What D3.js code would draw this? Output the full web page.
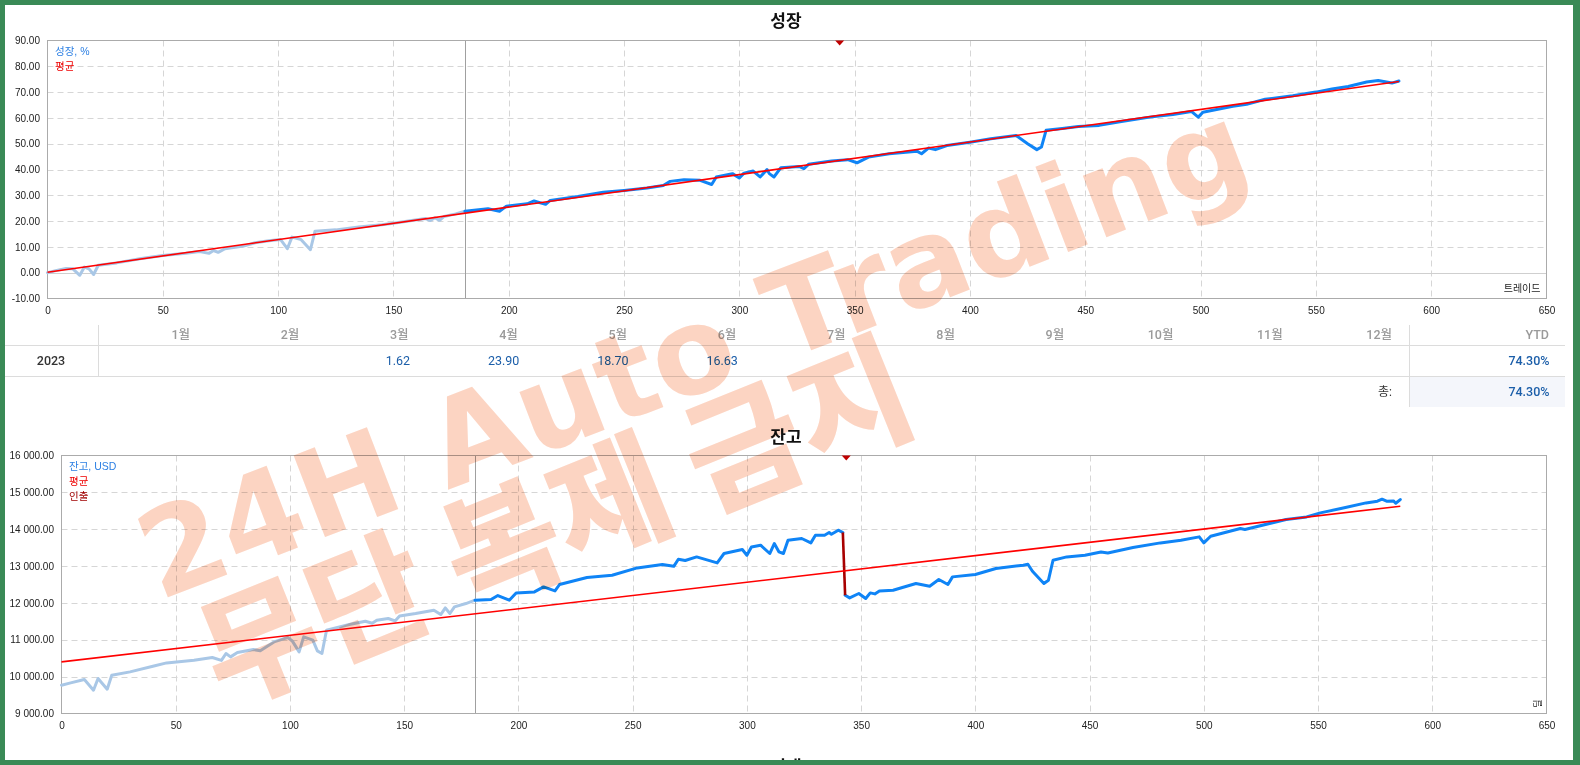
<!DOCTYPE html>
<html><head><meta charset="utf-8">
<script src="https://cdn.jsdelivr.net/npm/d3@7"></script>
<style>
html,body{margin:0;padding:0;background:#fff;overflow:hidden;}
svg{display:block;}
text{font-family:"Liberation Sans","Noto Sans CJK KR",sans-serif;}
</style></head><body>
<svg id="c" width="1580" height="765"></svg>
<script>
// ---------- DATA ----------
const xTickValues = [0,50,100,150,200,250,300,350,400,450,500,550,600,650];
const growthTicks = [-10,0,10,20,30,40,50,60,70,80,90];
const balanceTicks = [9000,10000,11000,12000,13000,14000,15000,16000];

const growthTrades = [0,4,8,11,14,16,18,20,22,30,40,50,60,66,70,72,74,77,85,90,96,101,104,106,110,114,116,125,135,145,150,158,164,166,168,170,172,177,181,191,196,199,208,211,216,218,230,241,250,260,267,270,276,283,288,290,297,300,302,306,309,312,313,315,318,326,328,330,340,347,351,356,365,377,379,382,385,390,400,409,420,425,429,431,433,440,447,456,465,478,488,496,499,501,514,520,528,540,550,557,564,572,577,580,583,586];
const growthValues = [0.0,0.9,1.6,1.5,-1.0,2.2,1.5,-0.7,2.9,3.8,5.4,6.7,7.5,8.2,7.5,8.6,7.9,9.3,10.3,11.6,12.4,12.9,9.3,13.8,12.8,8.9,16.1,16.6,17.7,18.6,19.2,20.2,21.0,20.2,21.3,20.3,21.8,22.8,23.8,24.8,23.8,25.8,26.7,27.8,26.5,28.0,29.5,31.2,31.9,32.8,33.8,35.4,36.0,35.8,34.2,37.1,38.4,36.7,38.6,39.4,37.1,40.0,38.4,37.1,40.7,41.2,40.3,42.0,43.3,43.8,42.6,44.8,46.1,47.1,46.1,48.3,47.7,49.3,50.6,51.9,53.2,50.0,47.7,48.7,55.2,55.9,56.7,57.1,58.5,60.3,61.3,62.5,60.3,62.2,64.5,65.3,67.2,68.6,70.0,71.2,72.2,73.9,74.5,74.0,73.5,74.3];
const growthAvgTrades = [0,586];
const growthAvgValues = [0.2,74.1];

const balanceTrades = [0,4,10,14,16,20,22,30,40,46,58,66,70,72,74,77,84,87,93,99,101,104,106,110,112,114,116,126,133,136,138,143,146,148,155,163,166,168,170,172,177,181,188,191,196,199,207,211,216,218,230,241,252,263,268,270,273,278,287,290,298,300,302,306,310,312,314,316,318,324,328,330,334,336,337,340,342,343,345,349,352,354,356,358,364,374,380,384,388,390,400,409,421,423,425,430,432,434,440,448,455,458,469,481,490,498,500,503,516,518,536,545,551,560,571,576,578,580,583,584,586];
const balanceValues = [9768,9831,9922,9632,9950,9659,10039,10130,10280,10373,10446,10520,10440,10628,10536,10655,10736,10700,10942,11062,10970,10672,11079,10989,10699,10628,11260,11415,11504,11450,11530,11577,11511,11648,11713,11803,11685,11865,11713,11893,11983,12075,12092,12201,12074,12272,12299,12435,12326,12500,12690,12752,12950,13042,12993,13186,13150,13249,13086,13341,13449,13294,13520,13566,13341,13612,13386,13341,13702,13748,13629,13837,13837,13910,13865,13973,13910,12209,12137,12256,12120,12272,12245,12326,12345,12527,12454,12635,12500,12707,12771,12934,13023,13050,12860,12527,12617,13159,13249,13294,13384,13357,13503,13629,13702,13792,13629,13810,14019,13994,14263,14334,14443,14560,14714,14760,14814,14760,14768,14705,14805];
const balanceAvgTrades = [0,586];
const balanceAvgValues = [10400,14624];
const withdrawalTrades = [342,343];
const withdrawalValues = [13910,12209];
const withdrawalMarker = 343.5;
const historyEnd = 181;

const months = ["1월","2월","3월","4월","5월","6월","7월","8월","9월","10월","11월","12월"];
const monthValues = [null,null,"1.62","23.90","18.70","16.63",null,null,null,null,null,null];
const yearLabel = "2023";
const ytdValue = "74.30%";
const totalValue = "74.30%";
const watermarkLines = ["24H Auto Trading","무단 복제 금지"];

// ---------- DRAW ----------
const svg = d3.select("#c");
svg.append("rect").attr("width",1580).attr("height",765).attr("fill","#fff");

const loc = d3.formatLocale({decimal:".",thousands:" ",grouping:[3],currency:["",""],minus:"-"});
const fmtBal = loc.format(",.2f");
const fmtG = loc.format(".2f");

function drawChart(cfg){
  const g = svg.append("g");
  const x = d3.scaleLinear().domain([0,650]).range([cfg.left,cfg.right]);
  const y = d3.scaleLinear().domain([cfg.ticks[0],cfg.ticks[cfg.ticks.length-1]]).range([cfg.bottom,cfg.top]);
  // grid
  g.append("g").selectAll("line").data(xTickValues.slice(1,-1)).join("line")
    .attr("x1",d=>Math.round(x(d))+0.5).attr("x2",d=>Math.round(x(d))+0.5)
    .attr("y1",cfg.top).attr("y2",cfg.bottom)
    .attr("stroke","#d6d6d6").attr("stroke-dasharray","6,4");
  g.append("g").selectAll("line").data(cfg.ticks.slice(1,-1)).join("line")
    .attr("x1",cfg.left).attr("x2",cfg.right)
    .attr("y1",d=>Math.round(y(d))+0.5).attr("y2",d=>Math.round(y(d))+0.5)
    .attr("stroke",d=>d===0&&cfg.zeroLine?"#cfcfcf":"#d6d6d6")
    .attr("stroke-dasharray",d=>d===0&&cfg.zeroLine?null:"6,4");
  // history separator
  g.append("line").attr("x1",Math.round(x(historyEnd))+0.5).attr("x2",Math.round(x(historyEnd))+0.5)
    .attr("y1",cfg.top).attr("y2",cfg.bottom).attr("stroke","#a0a0a0");
  // border
  g.append("rect").attr("x",cfg.left).attr("y",cfg.top).attr("width",cfg.right-cfg.left).attr("height",cfg.bottom-cfg.top)
    .attr("fill","none").attr("stroke","#ababab");
  // axes
  const ax = g.append("g").attr("transform",`translate(0,${cfg.bottom})`)
    .call(d3.axisBottom(x).tickValues(xTickValues).tickSize(0).tickPadding(8.6));
  ax.select(".domain").remove();
  ax.selectAll("text").attr("fill","#222").style("font-size","10px").style("font-family","Liberation Sans");
  const ay = g.append("g").attr("transform",`translate(${cfg.left},0)`)
    .call(d3.axisLeft(y).tickValues(cfg.ticks).tickFormat(cfg.fmt).tickSize(0).tickPadding(7.5));
  ay.select(".domain").remove();
  ay.selectAll("text").attr("fill","#222").style("font-size","10px").style("font-family","Liberation Sans");

  const pts = cfg.trades.map((t,i)=>[t,cfg.values[i]]);
  const line = d3.line().x(d=>x(d[0])).y(d=>y(d[1]));
  const segs = cfg.breakAt!=null
    ? [pts.filter(p=>p[0]<=cfg.breakAt[0]), pts.filter(p=>p[0]>=cfg.breakAt[1])]
    : [pts];
  segs.forEach(s=>{
    const hist = s.filter(p=>p[0]<=historyEnd);
    const live = s.filter(p=>p[0]>=historyEnd);
    if(hist.length>1) g.append("path").attr("d",line(hist)).attr("fill","none").attr("stroke","#a9c7e6")
      .attr("stroke-width",3).attr("stroke-linejoin","round").attr("stroke-linecap","round");
    if(live.length>1) g.append("path").attr("d",line(live)).attr("fill","none").attr("stroke","#0f84f6")
      .attr("stroke-width",3).attr("stroke-linejoin","round").attr("stroke-linecap","round");
  });
  // withdrawal
  if(cfg.wTrades){
    g.append("path").attr("d",line(cfg.wTrades.map((t,i)=>[t,cfg.wValues[i]])))
      .attr("fill","none").attr("stroke","#a80000").attr("stroke-width",2.6);
  }
  // average
  g.append("path").attr("d",line(cfg.avgTrades.map((t,i)=>[t,cfg.avgValues[i]])))
    .attr("fill","none").attr("stroke","#f00").attr("stroke-width",1.6);
  // marker
  const mx = x(withdrawalMarker);
  g.append("path").attr("d",`M${mx-4.5},${cfg.top} L${mx+4.5},${cfg.top} L${mx},${cfg.top+5} Z`).attr("fill","#c00000");
  // legend
  cfg.legend.forEach((l,i)=>{
    g.append("text").attr("x",cfg.left+7.5).attr("y",cfg.top+14.5+i*15).attr("fill",l[1])
      .style("font-size","10.5px").text(l[0]);
  });
  // axis name
  if(cfg.xName){
    g.append("text").attr("x",cfg.right-6).attr("y",cfg.bottom-6.5).attr("text-anchor","end").attr("fill","#222")
      .style("font-size","10px").style("font-family","Noto Sans CJK KR").text(cfg.xName);
  }
  if(cfg.xNameRot){
    g.append("text").attr("transform",`translate(${cfg.right-6},${cfg.bottom-10}) rotate(-90)`).attr("text-anchor","middle")
      .attr("fill","#222").style("font-size","9px").style("font-family","Noto Sans CJK KR").text(cfg.xNameRot);
  }
}

// titles
function title(txt,yb){
  svg.append("text").attr("x",786).attr("y",yb).attr("text-anchor","middle").attr("fill","#111")
    .style("font-size","17px").style("font-weight","bold").style("font-family","Noto Sans CJK KR").text(txt);
}
title("성장",27);
title("잔고",443);
title("거래",773);

drawChart({left:47.5,right:1546.5,top:40.5,bottom:298.5,ticks:growthTicks,fmt:fmtG,zeroLine:true,
  trades:growthTrades,values:growthValues,avgTrades:growthAvgTrades,avgValues:growthAvgValues,
  legend:[["성장, %","#2b7fe3"],["평균","#ee0000"]],xName:"트레이드"});
drawChart({left:61.5,right:1546.5,top:455.5,bottom:713.5,ticks:balanceTicks,fmt:fmtBal,
  trades:balanceTrades,values:balanceValues,avgTrades:balanceAvgTrades,avgValues:balanceAvgValues,
  breakAt:withdrawalTrades,wTrades:withdrawalTrades,wValues:withdrawalValues,
  legend:[["잔고, USD","#2b7fe3"],["평균","#ee0000"],["인출","#a00000"]],xNameRot:"딜"});

// ---------- TABLE ----------
const tb = svg.append("g");
const mX = d3.scaleLinear().domain([0,11]).range([190,1392]);
tb.append("rect").attr("x",1409.5).attr("y",376.5).attr("width",155.5).attr("height",30.5).attr("fill","#f4f6fb");
[345.5,376.5].forEach(yy=>tb.append("line").attr("x1",5).attr("x2",1565).attr("y1",yy).attr("y2",yy).attr("stroke","#dcdcdc"));
tb.append("line").attr("x1",98.5).attr("x2",98.5).attr("y1",325).attr("y2",376).attr("stroke","#dcdcdc");
tb.append("line").attr("x1",1409.5).attr("x2",1409.5).attr("y1",325).attr("y2",407).attr("stroke","#dcdcdc");
const tf = "Roboto, 'Noto Sans CJK KR', sans-serif";
tb.selectAll("text.m").data(months).join("text").attr("class","m")
  .attr("x",(d,i)=>mX(i)).attr("y",338.5).attr("text-anchor","end").attr("fill","#9a9a9a")
  .style("font-size","12.5px").style("font-family",tf).style("font-weight","500").text(d=>d);
tb.append("text").attr("x",1549).attr("y",338.5).attr("text-anchor","end").attr("fill","#9a9a9a")
  .style("font-size","12.5px").style("font-family",tf).style("font-weight","500").text("YTD");
tb.selectAll("text.v").data(monthValues.map((v,i)=>({v,i})).filter(d=>d.v!==null)).join("text").attr("class","v")
  .attr("x",d=>mX(d.i)+1.5).attr("y",365.3).attr("text-anchor","end").attr("fill","#1b5ea9")
  .style("font-size","12.5px").style("font-family",tf).text(d=>d.v);
tb.append("text").attr("x",51).attr("y",365.3).attr("text-anchor","middle").attr("fill","#333")
  .style("font-size","12.5px").style("font-family",tf).style("font-weight","500").text(yearLabel);
tb.append("text").attr("x",1549.5).attr("y",365.3).attr("text-anchor","end").attr("fill","#1b5ea9")
  .style("font-size","12.5px").style("font-family",tf).style("font-weight","500").text(ytdValue);
tb.append("text").attr("x",1392).attr("y",396.3).attr("text-anchor","end").attr("fill","#333")
  .style("font-size","12px").style("font-family",tf).text("총:");
tb.append("text").attr("x",1549.5).attr("y",396.3).attr("text-anchor","end").attr("fill","#1b5ea9")
  .style("font-size","12.5px").style("font-family",tf).style("font-weight","500").text(totalValue);

// ---------- WATERMARK ----------
const wm = svg.append("g").style("mix-blend-mode","multiply").attr("fill","#fcd4c2");
wm.append("text").attr("transform","translate(692.5,349.7) rotate(-21)").attr("text-anchor","middle").attr("dy","0.36em")
  .style("font-family","DejaVu Sans").style("font-weight","bold").style("font-size","120px").text(watermarkLines[0]);
wm.append("text").attr("transform","translate(555,521) rotate(-22)").attr("text-anchor","middle").attr("dy","0.38em")
  .style("font-family","Noto Sans CJK KR").style("font-weight","900").style("font-size","126px").text(watermarkLines[1]);

// ---------- FRAME ----------
const fc = "#3a8a56";
svg.append("rect").attr("x",0).attr("y",0).attr("width",1580).attr("height",5).attr("fill",fc);
svg.append("rect").attr("x",0).attr("y",760).attr("width",1580).attr("height",5).attr("fill",fc);
svg.append("rect").attr("x",0).attr("y",0).attr("width",5).attr("height",765).attr("fill",fc);
svg.append("rect").attr("x",1573).attr("y",0).attr("width",7).attr("height",765).attr("fill",fc);
</script>
</body></html>
